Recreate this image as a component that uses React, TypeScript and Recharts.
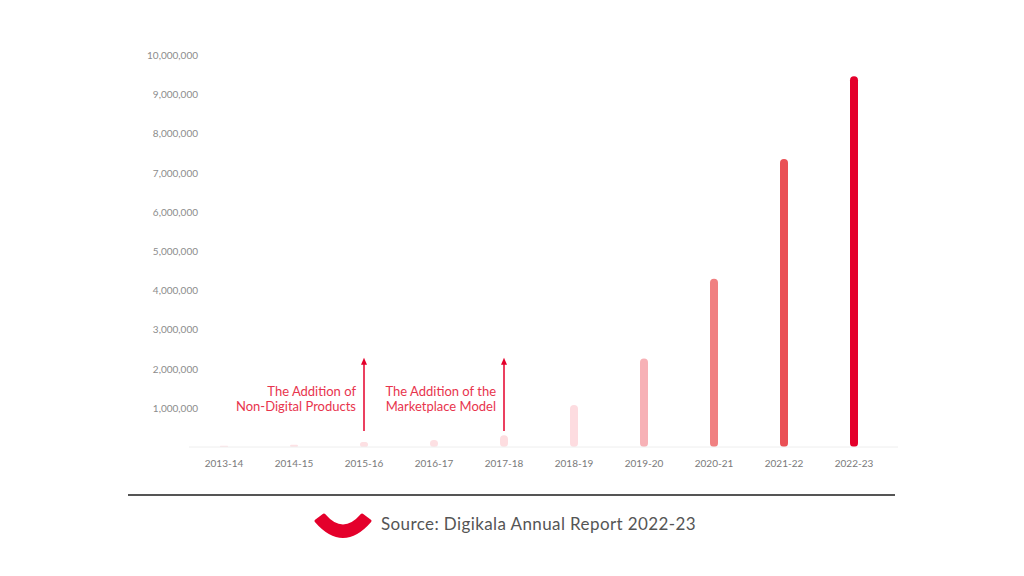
import React from 'react';
import { BarChart, Bar, XAxis, YAxis, Cell, ReferenceLine } from 'recharts';

// fiscal years and order counts
const years = ['2013-14', '2014-15', '2015-16', '2016-17', '2017-18', '2018-19', '2019-20', '2020-21', '2021-22', '2022-23'];
const orders = [30000, 60000, 130000, 180000, 300000, 1070000, 2260000, 4290000, 7350000, 9460000];
const yTicks = [1000000, 2000000, 3000000, 4000000, 5000000, 6000000, 7000000, 8000000, 9000000, 10000000];

const barColors = ['#fde2e5', '#fde2e5', '#fde0e3', '#fde0e3', '#fddde0', '#fddce0', '#f7b1b6', '#f08081', '#ea5055', '#e4002b'];

// annotation arrows: [year, from, to, line1, line2]
const notes: [string, number, number, string, string][] = [
  ['2015-16', 410000, 2250000, 'The Addition of', 'Non-Digital Products'],
  ['2017-18', 410000, 2250000, 'The Addition of the', 'Marketplace Model'],
];

const data = years.map((y, i) => ({ year: y, orders: orders[i] }));

const FONT = 'Lato, "Noto Sans", sans-serif';

const YTick = ({ x, y, payload }: any) => (
  <text x={x + 9} y={y} dy={4} textAnchor="end" fill="#8c8c8c" fontSize={10} fontFamily={FONT}>
    {Number(payload.value).toLocaleString('en-US')}
  </text>
);

const XTick = ({ x, y, payload }: any) => (
  <text x={x} y={y} dy={20} textAnchor="middle" fill="#7a7a7a" fontSize={10} fontFamily={FONT}>
    {payload.value}
  </text>
);

const arrowShape = (line1: string, line2: string) => (props: any) => {
  const { x1, y1, x2, y2 } = props;
  const top = Math.min(y1, y2);
  const bottom = Math.max(y1, y2);
  return (
    <g>
      <line x1={x1} y1={bottom} x2={x2} y2={top + 4} stroke="#e4002b" strokeWidth={1.5} />
      <polygon points={`${x1},${top - 1} ${x1 - 3},${top + 6} ${x1 + 3},${top + 6}`} fill="#e4002b" />
      <text x={x1 - 8} y={bottom - 35} textAnchor="end" fill="#e8344d" fontSize={13} fontFamily={FONT}>
        {line1}
      </text>
      <text x={x1 - 8} y={bottom - 20} textAnchor="end" fill="#e8344d" fontSize={13} fontFamily={FONT}>
        {line2}
      </text>
    </g>
  );
};

export default function App() {
  return (
    <div style={{ position: 'absolute', left: 0, top: 0, width: 1024, height: 576, background: '#fff', fontFamily: FONT }}>
      <BarChart width={1024} height={480} data={data} margin={{ top: 55, right: 126, bottom: 0, left: 0 }}>
        <XAxis
          dataKey="year"
          height={33}
          padding={{ left: 0, right: 9 }}
          axisLine={{ stroke: '#eeeeee' }}
          tickLine={false}
          tickSize={0}
          tickMargin={0}
          tick={<XTick />}
          interval={0}
        />
        <YAxis
          width={189}
          domain={[0, 10000000]}
          ticks={yTicks}
          axisLine={false}
          tickLine={false}
          tickSize={0}
          tickMargin={0}
          tick={<YTick />}
        />
        <Bar dataKey="orders" barSize={8} radius={[4, 4, 4, 4]} isAnimationActive={false}>
          {data.map((d, i) => (
            <Cell key={d.year} fill={barColors[i]} />
          ))}
        </Bar>
        {notes.map(([yr, from, to, l1, l2]) => (
          <ReferenceLine
            key={yr}
            segment={[{ x: yr, y: from }, { x: yr, y: to }]}
            shape={arrowShape(l1, l2)}
          />
        ))}
      </BarChart>
      <div style={{ position: 'absolute', left: 128, top: 494, width: 767, height: 0, borderTop: '2px solid #555' }} />
      <svg style={{ position: 'absolute', left: 310, top: 508 }} width={66} height={34}>
        <path d="M6,13 Q33,44 60,13 L52,7 Q33,29 14,7 Z" fill="#e4002b" stroke="#e4002b" strokeWidth={3} strokeLinejoin="round" />
      </svg>
      <div style={{ position: 'absolute', left: 381, top: 513, fontSize: 17, letterSpacing: 0.4, color: '#555', whiteSpace: 'nowrap', fontFamily: FONT }}>
        Source: Digikala Annual Report 2022-23
      </div>
    </div>
  );
}
